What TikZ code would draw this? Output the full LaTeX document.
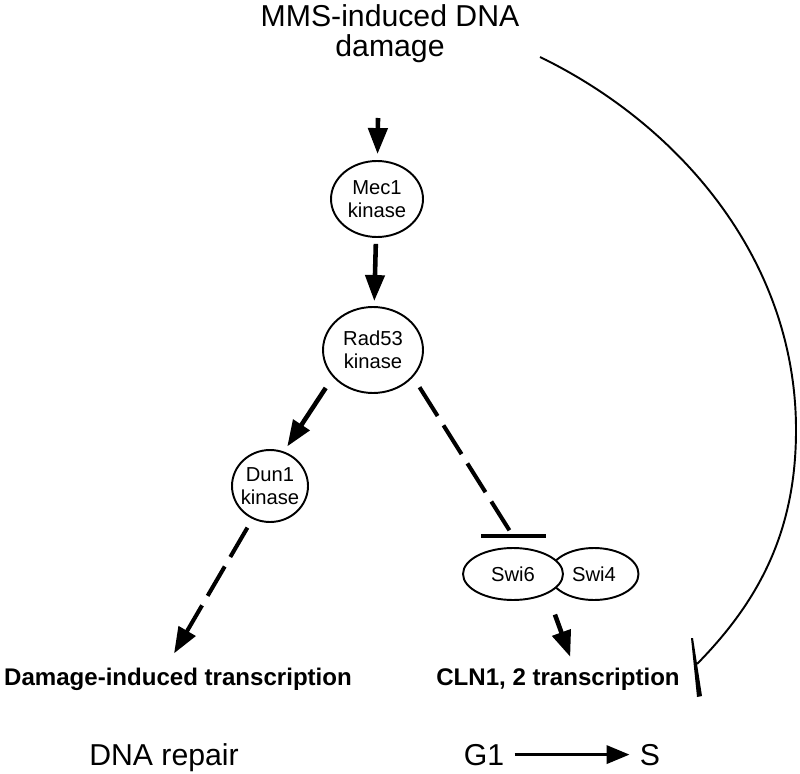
\documentclass[tikz,border=0pt]{standalone}
\usepackage{fontspec}
\setmainfont{Liberation Sans}
\usetikzlibrary{shapes.geometric,arrows.meta}

\tikzset{
  protein/.style={ellipse, draw, line width=1.1pt, fill=white, inner sep=0pt,
    align=center, font=\fontsize{11.5}{13.1}\selectfont},
  bigarrow/.style={line width=2.6pt, -{Triangle[length=0.52cm,width=0.38cm]}},
  dasharrow/.style={bigarrow, line width=2.3pt, dash pattern=on 0.68cm off 0.22cm},
  inhibline/.style={line width=2.3pt, dash pattern=on 0.68cm off 0.22cm},
  barline/.style={line width=2.5pt},
  bigtext/.style={inner sep=0pt, font=\fontsize{17.2}{17.1}\selectfont},
  boldtext/.style={inner sep=0pt, font=\fontsize{13.7}{15}\selectfont\bfseries},
}

\begin{document}
\begin{tikzpicture}[x=0.02cm, y=-0.02cm]
            \useasboundingbox (0,0) rectangle (800,773);
            \node[bigtext, align=center] (dmg) at (390,34) {MMS-induced DNA\\damage};
            \coordinate (dmgstart) at (378,118);
            \node[protein, minimum width=1.84cm, minimum height=1.52cm] (mec1) at (377,199) {Mec1\\kinase};
            \node[protein, minimum width=2cm, minimum height=1.72cm] (rad53) at (373,350) {Rad53\\kinase};
            \node[protein, minimum width=1.52cm, minimum height=1.44cm, inner xsep=-0.1cm] (dun1) at (270,486) {Dun1\\kinase};
            \node[protein, minimum width=1.78cm, minimum height=1.04cm] (swi4) at (594,574) {Swi4};
            \node[protein, minimum width=2cm, minimum height=1.04cm] (swi6) at (513,574) {Swi6};
            \coordinate (swibar) at ([yshift=0.22cm]swi6.north);
            \node[boldtext, anchor=base] (dmgtx) at (178,685) {Damage-induced transcription};
            \node[boldtext, anchor=base] (cln) at (558,685) {CLN1, 2 transcription};
            \node[bigtext, anchor=base] (repair) at (164,765) {DNA repair};
            \node[bigtext, anchor=base] (g1) at (484,765) {G1};
            \node[bigtext, anchor=base] (s) at (650,765) {S};
            \coordinate (curvestart) at (540,57);
            \coordinate (block) at (697,664);
            \draw[bigarrow, shorten >=0.12cm] (dmgstart) -- (mec1);
            \draw[bigarrow, shorten <=0.12cm, shorten >=0.1cm] (mec1) -- (rad53);
            \draw[bigarrow, shorten <=0.26cm, shorten >=0.12cm] (rad53.214) -- (dun1.68);
            \draw[dasharrow, shorten <=0.2cm, shorten >=0.32cm] (dun1.242) -- ([xshift=-0.24cm]dmgtx.north);
            \draw[inhibline, shorten <=0.24cm] (rad53.-34) -- (swibar);
            \draw[barline] ([xshift=-0.64cm]swibar) -- ([xshift=0.66cm]swibar);
            \draw[bigarrow, shorten <=0.44cm, shorten >=0.22cm] (swi6.-30) -- ([xshift=0.32cm]cln.north);
            \draw[line width=1.1pt] (curvestart) .. controls (680,125) and (796,260) .. (796,430)
              .. controls (796,530) and (760,600) .. (block);
            \fill (block) ++(-6,-26) -- ++(2,0) -- ++(9,58) -- ++(-5,1) -- cycle;
            \draw[line width=2pt, -{Triangle[length=0.46cm,width=0.36cm]}, shorten <=0.2cm, shorten >=0.2cm] (g1.east) -- (s.west);
        \end{tikzpicture}
\end{document}
